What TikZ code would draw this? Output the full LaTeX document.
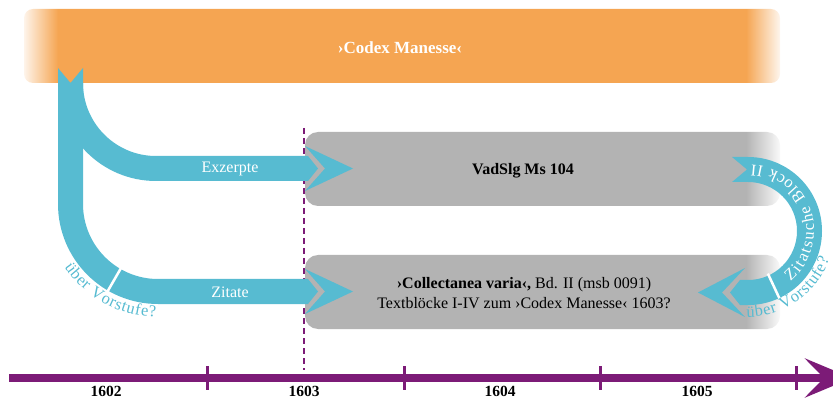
\documentclass[tikz,border=0pt]{standalone}
\usepackage{fontspec}
\setmainfont{Liberation Serif}
\usetikzlibrary{arrows.meta,decorations.text,calc}

\definecolor{barorange}{RGB}{245,165,82}
\definecolor{boxgray}{RGB}{179,179,179}
\definecolor{flowblue}{RGB}{87,187,209}
\definecolor{timepurple}{RGB}{124,27,119}

% bars that fade out at their ends
\pgfdeclarehorizontalshading{orangefade}{100bp}{color(0bp)=(barorange!12); color(25bp)=(barorange!12); color(27.25bp)=(barorange); color(72.75bp)=(barorange); color(75bp)=(barorange!10); color(100bp)=(barorange!10)}
\pgfdeclarehorizontalshading{grayfade}{100bp}{color(0bp)=(boxgray); color(71.4bp)=(boxgray); color(75bp)=(boxgray!8); color(100bp)=(boxgray!8)}

\newcommand\labsize{\fontsize{16}{20}\selectfont}
\newcommand\arcsize{\fontsize{16.5}{20}\selectfont}
\newcommand\yearsize{\fontsize{15.5}{18}\selectfont}

\tikzset{
  flow/.style={fill=flowblue},
  flowlabel/.style={text=white, font=\labsize, inner sep=0pt},
  boxtext/.style={text=black, font=\labsize, inner sep=0pt, align=center},
  yearlabel/.style={font=\bfseries\yearsize, inner sep=0pt},
  tick/.style={draw=timepurple, line width=3pt},
  gap/.style={draw=white, line width=2.5pt},
}

\begin{document}
\begin{tikzpicture}[x=1pt,y=-1pt]
\useasboundingbox (0,0) rectangle (833,398);

% source bar
\shade[shading=orangefade, rounded corners=9pt] (24,9) rectangle (780,83);
\node[text=white, font=\bfseries\fontsize{17}{20}\selectfont, inner sep=0pt] (codex) at (400,48) {›Codex Manesse‹};

% target manuscripts
\shade[shading=grayfade, rounded corners=13pt] (305,132) rectangle (780,206);
\shade[shading=grayfade, rounded corners=13pt] (305,255) rectangle (780,329);

% year marker
\draw[timepurple, line width=2pt, dash pattern=on 6pt off 4pt] (304,128) -- (304,370);

% centres of the bends
\coordinate (ec) at (156,83);
\coordinate (lc) at (158,204);
\coordinate (rc) at (748,231);

% left stream: trunk and "Zitate" branch
\fill[flow] (58,68) -- (70.5,83) -- (83,68) -- (83,204) arc(180:90:75)
  -- (308,279) -- (318,291.5) -- (308,304) -- (158,304) arc(90:180:100) -- cycle;
% "Exzerpte" branch
\fill[flow] (83,83) arc(180:90:73) -- (308,156) -- (318,168.5) -- (308,181)
  -- (156,181) arc(90:180:98) -- cycle;
% arrow heads
\fill[flow] (305,146) -- (353,168.5) -- (305,191) -- (325,168.5) -- cycle;
\fill[flow] (305,269) -- (353,291.5) -- (305,314) -- (325,291.5) -- cycle;

% right loop
\fill[flow] (732,157) -- (748,157) arc(-90:90:74) -- (740,305) -- (730,292.5)
  -- (740,280) -- (748,280) arc(90:-90:49) -- (732,182) -- (747,169.5) -- cycle;
\fill[flow] (745,268) -- (698,292.5) -- (745,317) -- (722,292.5) -- cycle;

% breaks in the bends
\draw[gap] ($(lc)+(120:73)$) -- ($(lc)+(120:102)$);
\draw[gap] ($(rc)+(65:47)$) -- ($(rc)+(65:76)$);

% labels
\node[flowlabel] (exz) at (230,169) {Exzerpte};
\node[flowlabel] (zit) at (230,292) {Zitate};
\node[boxtext, font=\bfseries\labsize] (vad) at (523,171) {VadSlg Ms 104};
\node[boxtext] (coll) at (524,293) {\textbf{›Collectanea varia‹,} Bd. II (msb 0091)\\Textblöcke I-IV zum ›Codex Manesse‹ 1603?};

\path[decorate, decoration={text along path, text align=fit to path, text color=flowblue,
  text={|\arcsize|über Vorstufe?}}] ($(lc)+(146:113)$) arc(146:91:113);
\path[decorate, decoration={text along path, text align=fit to path, text color=flowblue,
  text={|\arcsize|über Vorstufe?}}] ($(rc)+(91:86)$) arc(91:19:86);
\path[decorate, decoration={text along path, text align=fit to path, text color=white,
  text={|\arcsize|Zitatsuche Block II}}] ($(rc)+(50:66)$) arc(50:-87:66);

% time line
\draw[timepurple, line width=8pt, -{Stealth[length=47pt, width=39pt, inset=19pt]}] (9,378) -- (852,378);
\foreach \x in {207,404,600,796} \draw[tick] (\x,366) -- (\x,390);
\node[yearlabel] (y1602) at (106,391) {1602};
\node[yearlabel] (y1603) at (304,391) {1603};
\node[yearlabel] (y1604) at (500,391) {1604};
\node[yearlabel] (y1605) at (697,391) {1605};
\end{tikzpicture}
\end{document}
